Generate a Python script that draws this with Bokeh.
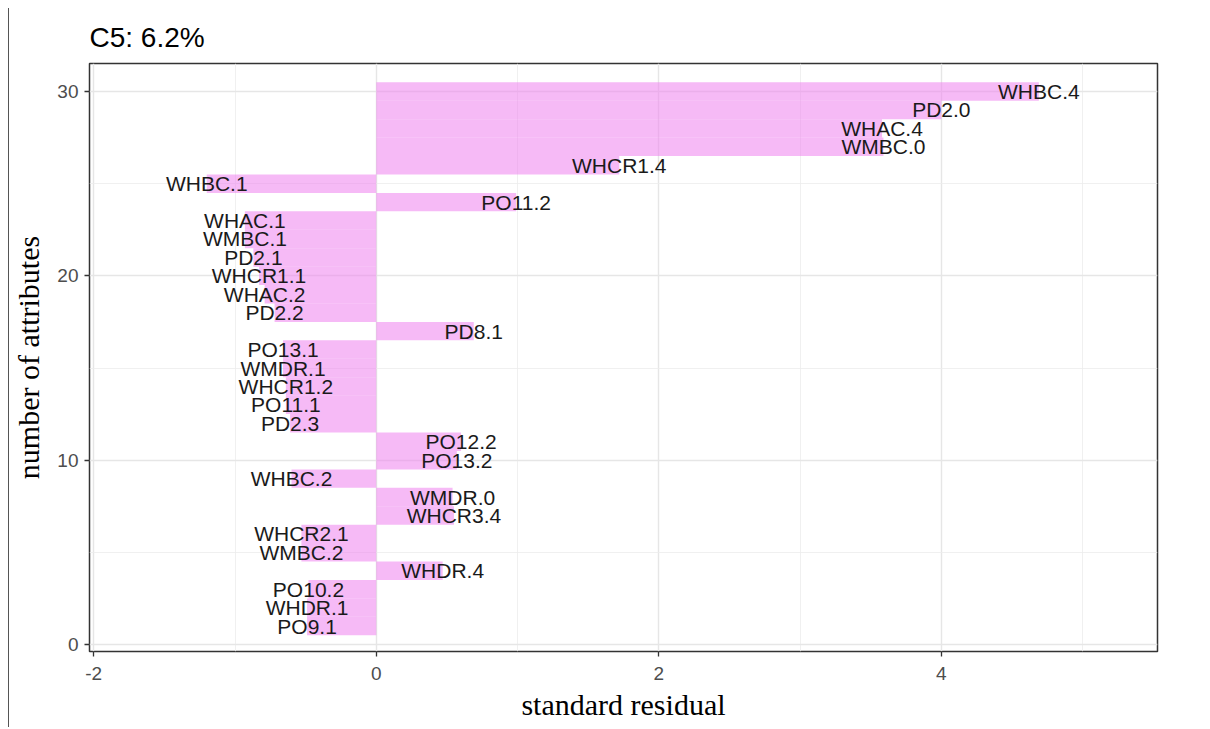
from bokeh.plotting import figure
from bokeh.models import FixedTicker, ColumnDataSource, Range1d
from bokeh.embed import file_html
from bokeh.resources import INLINE
from bokeh.core.properties import value

# attributes listed top (row 30) to bottom (row 1)
attributes = ["WHBC.4", "PD2.0", "WHAC.4", "WMBC.0", "WHCR1.4", "WHBC.1", "PO11.2",
              "WHAC.1", "WMBC.1", "PD2.1", "WHCR1.1", "WHAC.2", "PD2.2", "PD8.1",
              "PO13.1", "WMDR.1", "WHCR1.2", "PO11.1", "PD2.3", "PO12.2", "PO13.2",
              "WHBC.2", "WMDR.0", "WHCR3.4", "WHCR2.1", "WMBC.2", "WHDR.4",
              "PO10.2", "WHDR.1", "PO9.1"]
residuals = [4.69, 4.00, 3.58, 3.59, 1.72, -1.20, 0.99,
             -0.93, -0.93, -0.87, -0.83, -0.79, -0.72, 0.69,
             -0.66, -0.66, -0.64, -0.64, -0.61, 0.60, 0.57,
             -0.60, 0.54, 0.55, -0.53, -0.53, 0.47,
             -0.48, -0.49, -0.49]
positions = list(range(len(attributes), 0, -1))

x_ticks = [-2, 0, 2, 4]
x_minor = [-1, 1, 3, 5]
y_ticks = [0, 10, 20, 30]
y_minor = [5, 15, 25]

src = ColumnDataSource(dict(attr=attributes, res=residuals, pos=positions))

p = figure(frame_width=1068, frame_height=588,
           x_range=Range1d(-2.03, 5.53), y_range=Range1d(-0.38, 31.52),
           output_backend="svg", toolbar_location=None, title="C5: 6.2%",
           min_border_left=77, min_border_right=47, min_border_top=54,
           min_border_bottom=76, background_fill_color="white",
           border_fill_color="white")

p.hbar(y="pos", left=0, right="res", height=1, source=src,
       fill_color="#EE82EE", fill_alpha=0.55, line_color=None)
p.text(x="res", y="pos", text="attr", source=src, text_align="center",
       text_baseline="middle", text_font=value("Liberation Sans"),
       text_font_size="21px", text_color="#1a1a1a")

p.title.text_font = "Liberation Sans"
p.title.text_font_size = "28px"
p.title.text_font_style = "normal"
p.title.text_color = "black"
p.title.align = "left"
p.title.standoff = 22

p.xaxis.ticker = FixedTicker(ticks=x_ticks, minor_ticks=x_minor)
p.yaxis.ticker = FixedTicker(ticks=y_ticks, minor_ticks=y_minor)
p.xaxis.major_label_overrides = {t: str(t) for t in x_ticks}

for ax in (p.xaxis, p.yaxis):
    ax.axis_line_color = None
    ax.minor_tick_line_color = None
    ax.major_tick_out = 5
    ax.major_tick_in = 0
    ax.major_tick_line_color = "#333333"
    ax.major_tick_line_width = 1.3
    ax.major_label_text_font = "Liberation Sans"
    ax.major_label_text_font_size = "19px"
    ax.major_label_text_color = "#4d4d4d"
    ax.axis_label_text_font = "Liberation Serif"
    ax.axis_label_text_font_size = "30px"
    ax.axis_label_text_font_style = "normal"
    ax.axis_label_text_color = "black"

p.xaxis.axis_label = "standard residual"
p.yaxis.axis_label = "number of attributes"
p.xaxis.major_label_standoff = 10
p.xaxis.axis_label_standoff = 5
p.yaxis.major_label_standoff = 6
p.yaxis.axis_label_standoff = 9

for g in (p.xgrid, p.ygrid):
    g.grid_line_color = "#e6e6e6"
    g.grid_line_width = 1.4
    g.minor_grid_line_color = "#ececec"
    g.minor_grid_line_width = 0.8

p.outline_line_color = "#333333"
p.outline_line_width = 1.5
p.styles = {"border-left": "1.5px solid #555555", "margin-left": "8px",
            "margin-top": "8px"}

open("out.html", "w").write(file_html(p, INLINE))
